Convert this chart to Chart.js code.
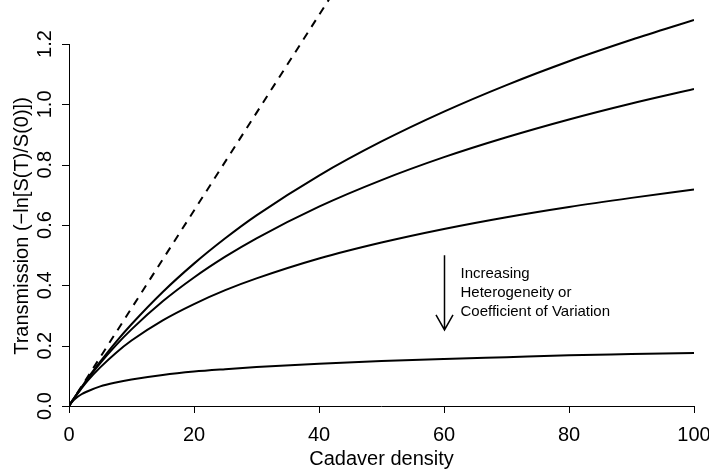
<!DOCTYPE html>
<html>
<head>
<meta charset="utf-8">
<script src="https://cdn.jsdelivr.net/npm/chart.js@4/dist/chart.umd.min.js"></script>
<style>
  html, body { margin: 0; padding: 0; background: #fff; }
  #wrap { width: 709px; height: 473px; }
</style>
</head>
<body>
<div id="wrap"><canvas id="chart" width="709" height="473"></canvas></div>
<script>
// cadaver density values where the curves were read
const density = [0, 0.5, 1, 2, 3, 5, 7.5, 10, 15, 20, 25, 30, 40, 50, 60, 70, 80, 90, 100];

// dashed line: no heterogeneity (straight line through origin)
const homogeneousX = [0, 50];
const homogeneous = [0, 1.62];

// solid curves, top to bottom (increasing heterogeneity)
const curveA = [0, 0.016, 0.032, 0.062, 0.092, 0.147, 0.212, 0.271, 0.378, 0.472, 0.556, 0.632, 0.764, 0.877, 0.976, 1.064, 1.143, 1.214, 1.280];
const curveB = [0, 0.016, 0.031, 0.061, 0.089, 0.142, 0.201, 0.254, 0.347, 0.426, 0.495, 0.556, 0.661, 0.749, 0.825, 0.891, 0.950, 1.003, 1.051];
const curveC = [0, 0.016, 0.031, 0.058, 0.084, 0.128, 0.176, 0.217, 0.284, 0.338, 0.384, 0.423, 0.489, 0.542, 0.587, 0.626, 0.660, 0.690, 0.718];
const curveD = [0, 0.014, 0.024, 0.039, 0.049, 0.065, 0.078, 0.088, 0.103, 0.114, 0.122, 0.129, 0.140, 0.149, 0.156, 0.162, 0.168, 0.172, 0.176];

const xTicks = [0, 20, 40, 60, 80, 100];
const yTicks = [0, 0.2, 0.4, 0.6, 0.8, 1.0, 1.2];
const yTickLabels = ["0.0", "0.2", "0.4", "0.6", "0.8", "1.0", "1.2"];
const noteLines = ["Increasing", "Heterogeneity or", "Coefficient of Variation"];

const FONT = '"Liberation Sans", Arial, Helvetica, sans-serif';

function pts(xs, ys) {
  return xs.map((x, i) => ({ x: x, y: ys[i] }));
}

function solid(values) {
  return {
    data: pts(density, values),
    borderColor: "#000",
    borderWidth: 2,
    pointRadius: 0,
    fill: false,
    cubicInterpolationMode: "monotone",
  };
}

// R-style axes, labels and the arrow note
const rStyle = {
  id: "rStyle",
  afterDraw(chart) {
    const ctx = chart.ctx;
    const xs = chart.scales.x;
    const ys = chart.scales.y;
    const bottom = chart.chartArea.bottom;
    const left = chart.chartArea.left;
    ctx.save();
    ctx.strokeStyle = "#000";
    ctx.fillStyle = "#000";
    ctx.lineWidth = 1;

    // x axis
    ctx.beginPath();
    ctx.moveTo(xs.getPixelForValue(xTicks[0]), bottom + 0.5);
    ctx.lineTo(xs.getPixelForValue(xTicks[xTicks.length - 1]), bottom + 0.5);
    xTicks.forEach((v) => {
      const p = Math.round(xs.getPixelForValue(v)) + 0.5;
      ctx.moveTo(p, bottom);
      ctx.lineTo(p, bottom + 7);
    });
    // y axis
    ctx.moveTo(left + 0.5, ys.getPixelForValue(yTicks[0]));
    ctx.lineTo(left + 0.5, ys.getPixelForValue(yTicks[yTicks.length - 1]));
    yTicks.forEach((v) => {
      const p = Math.round(ys.getPixelForValue(v)) + 0.5;
      ctx.moveTo(left, p);
      ctx.lineTo(left - 7, p);
    });
    ctx.stroke();

    ctx.font = "20px " + FONT;
    ctx.textAlign = "center";
    ctx.textBaseline = "alphabetic";
    xTicks.forEach((v) => {
      ctx.fillText(String(v), xs.getPixelForValue(v), bottom + 35);
    });
    ctx.fillText("Cadaver density", (chart.chartArea.left + chart.chartArea.right) / 2, 465);

    yTicks.forEach((v, i) => {
      ctx.save();
      ctx.translate(left - 18, ys.getPixelForValue(v));
      ctx.rotate(-Math.PI / 2);
      ctx.fillText(yTickLabels[i], 0, 0);
      ctx.restore();
    });
    ctx.save();
    ctx.translate(28, 226);
    ctx.rotate(-Math.PI / 2);
    ctx.fillText("Transmission (\u2212ln[S(T)/S(0)])", 0, 0);
    ctx.restore();

    // arrow note
    const ax = Math.round(xs.getPixelForValue(60)) + 0.5;
    const aTop = ys.getPixelForValue(0.5);
    const aTip = ys.getPixelForValue(0.252);
    ctx.lineWidth = 1.5;
    ctx.beginPath();
    ctx.moveTo(ax, aTop);
    ctx.lineTo(ax, aTip);
    ctx.moveTo(ax - 8.5, aTip - 15);
    ctx.lineTo(ax, aTip);
    ctx.lineTo(ax + 8.5, aTip - 15);
    ctx.stroke();

    ctx.font = "15px " + FONT;
    ctx.textAlign = "left";
    noteLines.forEach((t, i) => {
      ctx.fillText(t, ax + 16, aTop + 23 + i * 19);
    });
    ctx.restore();
  },
};

new Chart(document.getElementById("chart"), {
  type: "line",
  data: {
    datasets: [
      {
        data: pts(homogeneousX, homogeneous),
        borderColor: "#000",
        borderWidth: 2,
        borderDash: [8, 7],
        pointRadius: 0,
        fill: false,
      },
      solid(curveA),
      solid(curveB),
      solid(curveC),
      solid(curveD),
    ],
  },
  options: {
    responsive: false,
    animation: false,
    devicePixelRatio: 1,
    layout: {
      padding: { left: 69, right: 15, top: 0, bottom: 67 },
    },
    plugins: {
      legend: { display: false },
      tooltip: { enabled: false },
    },
    scales: {
      x: { type: "linear", min: 0, max: 100, display: false },
      y: { type: "linear", min: 0, max: 1.346, display: false },
    },
  },
  plugins: [rStyle],
});
</script>
</body>
</html>
